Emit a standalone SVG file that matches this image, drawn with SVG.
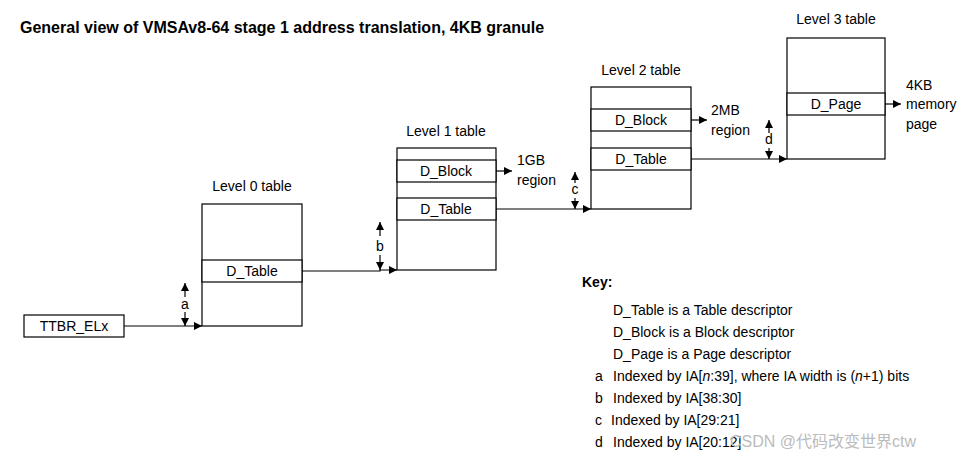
<svg xmlns="http://www.w3.org/2000/svg" width="968" height="459" viewBox="0 0 968 459">
<style>
text{font-family:"Liberation Sans",Arial,sans-serif;font-size:14px;fill:#000}
.c{text-anchor:middle}
.box{fill:#fff;stroke:#000;stroke-width:1.2}
.ln{stroke:#000;stroke-width:1.2;fill:none}
</style>
<defs>
<marker id="ah" markerWidth="8" markerHeight="8" refX="8" refY="4" orient="auto" markerUnits="userSpaceOnUse"><path d="M0,0L8,4L0,8z" fill="#000"/></marker>
</defs>
<rect width="968" height="459" fill="#fff"/>
<text x="20" y="33" style="font-weight:bold;font-size:16px">General view of VMSAv8-64 stage 1 address translation, 4KB granule</text>
<g id="ttbr"><rect class="box" x="24" y="315" width="100" height="22"/><text class="c" x="74" y="331">TTBR_ELx</text></g>
<g id="l0"><text class="c" x="252" y="191">Level 0 table</text><rect class="box" x="202" y="204" width="100" height="122"/><rect class="box" x="202" y="260" width="100" height="22"/><text class="c" x="252" y="276">D_Table</text></g>
<g id="l1"><text class="c" x="446" y="136">Level 1 table</text><rect class="box" x="397" y="148" width="99" height="122"/><rect class="box" x="397" y="160" width="99" height="22"/><text class="c" x="446" y="176">D_Block</text><rect class="box" x="397" y="198" width="99" height="22"/><text class="c" x="446" y="214">D_Table</text></g>
<g id="l2"><text class="c" x="641" y="75">Level 2 table</text><rect class="box" x="591" y="87" width="100" height="122"/><rect class="box" x="591" y="109" width="100" height="22"/><text class="c" x="641" y="125">D_Block</text><rect class="box" x="591" y="148" width="100" height="22"/><text class="c" x="641" y="164">D_Table</text></g>
<g id="l3"><text class="c" x="836" y="24">Level 3 table</text><rect class="box" x="787" y="38" width="98" height="121"/><rect class="box" x="787" y="93" width="98" height="22"/><text class="c" x="836" y="109">D_Page</text></g>
<g id="labels">
<text x="517" y="165">1GB</text><text x="517" y="185">region</text>
<text x="711" y="115">2MB</text><text x="711" y="135">region</text>
<text x="906" y="90">4KB</text><text x="906" y="109">memory</text><text x="906" y="129">page</text>
</g>
<g id="connectors">
<path class="ln" d="M124,326H202" marker-end="url(#ah)"/>
<path class="ln" d="M302,271H380V270H397" marker-end="url(#ah)"/>
<path class="ln" d="M496,209H591" marker-end="url(#ah)"/>
<path class="ln" d="M691,159H787" marker-end="url(#ah)"/>
<path class="ln" d="M496,171H512" marker-end="url(#ah)"/>
<path class="ln" d="M691,120H707" marker-end="url(#ah)"/>
<path class="ln" d="M885,104H901" marker-end="url(#ah)"/>
<path class="ln" d="M185,297V283" marker-end="url(#ah)"/><path class="ln" d="M185,312V326" marker-end="url(#ah)"/><text class="c" x="185" y="309">a</text>
<path class="ln" d="M380,236V222" marker-end="url(#ah)"/><path class="ln" d="M380,255V270" marker-end="url(#ah)"/><text class="c" x="380" y="251">b</text>
<path class="ln" d="M575,183V172" marker-end="url(#ah)"/><path class="ln" d="M575,198V209" marker-end="url(#ah)"/><text class="c" x="575" y="194">c</text>
<path class="ln" d="M769,133V120" marker-end="url(#ah)"/><path class="ln" d="M769,148V159" marker-end="url(#ah)"/><text class="c" x="769" y="144">d</text>
</g>
<g id="key">
<text x="582" y="287" style="font-weight:bold">Key:</text>
<text x="613" y="315">D_Table is a Table descriptor</text>
<text x="613" y="337">D_Block is a Block descriptor</text>
<text x="613" y="359">D_Page is a Page descriptor</text>
<text x="595" y="381">a</text><text x="613" y="381">Indexed by IA[<tspan font-style="italic">n</tspan>:39], where IA width is (<tspan font-style="italic">n</tspan>+1) bits</text>
<text x="595" y="403">b</text><text x="613" y="403">Indexed by IA[38:30]</text>
<text x="595" y="425">c</text><text x="611" y="425">Indexed by IA[29:21]</text>
<text x="595" y="447">d</text><text x="613" y="447">Indexed by IA[20:12]</text>
<text x="730" y="447" style="fill:#bbb;font-size:16px;font-family:'Liberation Sans','Noto Sans CJK SC',sans-serif">CSDN @代码改变世界ctw</text>
</g>
</svg>
